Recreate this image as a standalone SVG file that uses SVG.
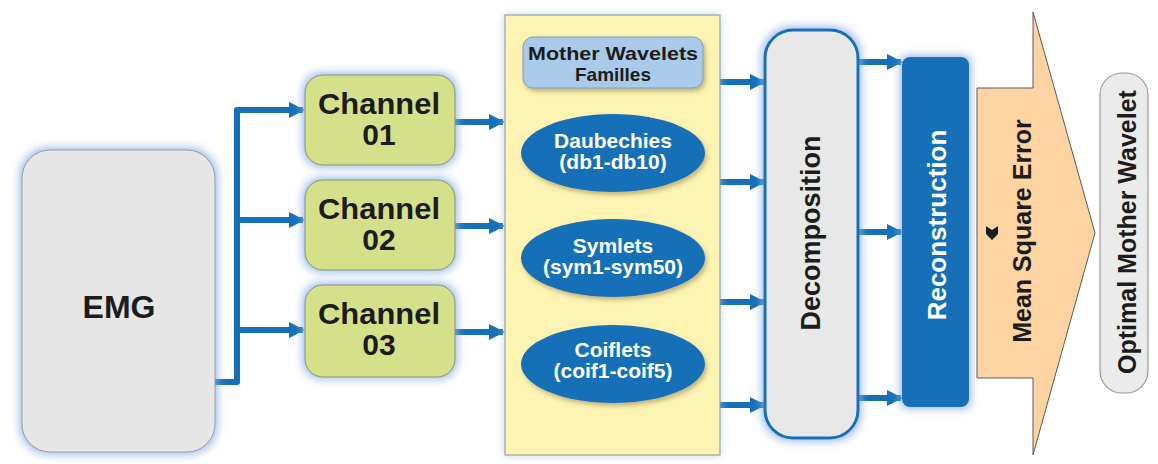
<svg xmlns="http://www.w3.org/2000/svg" width="1158" height="464" viewBox="0 0 1158 464">
<defs>
<style>
text{font-family:"Liberation Sans",Arial,sans-serif;font-weight:bold;text-anchor:middle}
.dark{fill:#1c1c1c}
.white{fill:#ffffff}
.conn{fill:none;stroke:#1670b8;stroke-width:6;stroke-linejoin:round}
.chan{fill:#d5e08b;stroke:#8a8f70;stroke-width:1}
.ell{fill:#1670b8}
</style>
<filter id="glow" x="-30%" y="-30%" width="160%" height="160%">
<feMorphology in="SourceAlpha" operator="dilate" radius="2" result="d"/>
<feGaussianBlur in="d" stdDeviation="4" result="b"/>
<feFlood flood-color="#8db0e6" flood-opacity="0.85"/>
<feComposite in2="b" operator="in" result="g"/>
<feMerge><feMergeNode in="g"/><feMergeNode in="SourceGraphic"/></feMerge>
</filter>
<filter id="softglow" x="-30%" y="-10%" width="160%" height="120%">
<feGaussianBlur in="SourceAlpha" stdDeviation="4" result="b"/>
<feFlood flood-color="#a9c3ea" flood-opacity="0.7"/>
<feComposite in2="b" operator="in" result="g"/>
<feMerge><feMergeNode in="g"/><feMergeNode in="SourceGraphic"/></feMerge>
</filter>
<filter id="shadow" x="-20%" y="-30%" width="140%" height="160%">
<feDropShadow dx="2" dy="3" stdDeviation="2" flood-color="#7a6a30" flood-opacity="0.45"/>
</filter>
<marker id="ah" viewBox="0 0 16 16" refX="14" refY="8" markerWidth="16" markerHeight="16" markerUnits="userSpaceOnUse" orient="auto">
<path d="M0,0 L16,8 L0,16 Z" fill="#1670b8"/>
</marker>
</defs>
<rect width="1158" height="464" fill="#ffffff"/>

<g id="connectors">
<path class="conn" d="M215,382 H237 V110 H303" marker-end="url(#ah)"/>
<path class="conn" d="M237,220 H303" marker-end="url(#ah)"/>
<path class="conn" d="M237,330 H303" marker-end="url(#ah)"/>
<path class="conn" d="M455,122 H503" marker-end="url(#ah)"/>
<path class="conn" d="M455,226 H503" marker-end="url(#ah)"/>
<path class="conn" d="M455,332 H503" marker-end="url(#ah)"/>
<path class="conn" d="M720,82 H764" marker-end="url(#ah)"/>
<path class="conn" d="M720,182 H764" marker-end="url(#ah)"/>
<path class="conn" d="M720,302 H764" marker-end="url(#ah)"/>
<path class="conn" d="M720,405 H764" marker-end="url(#ah)"/>
<path class="conn" d="M858,62 H901" marker-end="url(#ah)"/>
<path class="conn" d="M858,232 H901" marker-end="url(#ah)"/>
<path class="conn" d="M858,398 H901" marker-end="url(#ah)"/>
</g>

<g id="emg">
<rect x="22" y="150" width="193" height="302" rx="28" fill="#e6e6e6" stroke="#9a9a9a" stroke-width="1" filter="url(#glow)"/>
<text class="dark" x="119" y="318" font-size="32">EMG</text>
</g>

<g id="channel01">
<rect class="chan" x="305" y="75" width="150" height="90" rx="18" filter="url(#glow)"/>
<text class="dark" x="379" y="114" font-size="30" textLength="122" lengthAdjust="spacingAndGlyphs">Channel</text>
<text class="dark" x="379" y="145" font-size="30">01</text>
</g>
<g id="channel02">
<rect class="chan" x="305" y="180" width="150" height="90" rx="18" filter="url(#glow)"/>
<text class="dark" x="379" y="219" font-size="30" textLength="122" lengthAdjust="spacingAndGlyphs">Channel</text>
<text class="dark" x="379" y="250" font-size="30">02</text>
</g>
<g id="channel03">
<rect class="chan" x="305" y="285" width="150" height="92" rx="18" filter="url(#glow)"/>
<text class="dark" x="379" y="324" font-size="30" textLength="122" lengthAdjust="spacingAndGlyphs">Channel</text>
<text class="dark" x="379" y="355" font-size="30">03</text>
</g>

<g id="wavelet-panel">
<rect x="505" y="15" width="215" height="440" fill="#fdf3b2" stroke="#8f8f8f" stroke-width="1" filter="url(#softglow)"/>
</g>
<g id="families">
<rect x="523" y="37" width="180" height="51" rx="10" fill="#a9cbe9" stroke="#7f9fbf" stroke-width="1" filter="url(#shadow)"/>
<text class="dark" x="613" y="60" font-size="19" textLength="170" lengthAdjust="spacingAndGlyphs">Mother Wavelets</text>
<text class="dark" x="613" y="81" font-size="19">Familles</text>
</g>
<g id="daubechies">
<ellipse class="ell" cx="613" cy="153" rx="92" ry="39" filter="url(#shadow)"/>
<text class="white" x="613" y="148" font-size="21">Daubechies</text>
<text class="white" x="613" y="169" font-size="21">(db1-db10)</text>
</g>
<g id="symlets">
<ellipse class="ell" cx="613" cy="258" rx="92" ry="39" filter="url(#shadow)"/>
<text class="white" x="613" y="253" font-size="21">Symlets</text>
<text class="white" x="613" y="274" font-size="21">(sym1-sym50)</text>
</g>
<g id="coiflets">
<ellipse class="ell" cx="613" cy="364" rx="92" ry="39" filter="url(#shadow)"/>
<text class="white" x="613" y="357" font-size="21">Coiflets</text>
<text class="white" x="613" y="378" font-size="21">(coif1-coif5)</text>
</g>

<g id="decomposition">
<rect x="765" y="30" width="93" height="408" rx="28" fill="#e8e8e8" stroke="#1670b8" stroke-width="3" filter="url(#glow)"/>
<text class="dark" transform="translate(820,233) rotate(-90)" x="0" y="0" font-size="27">Decomposition</text>
</g>

<g id="reconstruction">
<rect x="902" y="57" width="67" height="350" rx="8" fill="#1670b8" filter="url(#glow)"/>
<text class="white" transform="translate(946,225) rotate(-90)" x="0" y="0" font-size="26">Reconstruction</text>
</g>

<g id="mse">
<polygon points="977,88 1033,88 1033,12 1095,233 1033,455 1033,378 977,378" fill="#fdd3a2" stroke="#5a5a5a" stroke-width="1"/>
<path d="M986,226 L992,230 L998,226 L998,234 L992,240 L986,234 Z" fill="#1c1c1c"/>
<text class="dark" transform="translate(1031,231) rotate(-90)" x="0" y="0" font-size="25">Mean Square Error</text>
</g>

<g id="optimal">
<rect x="1100" y="73" width="48" height="320" rx="22" fill="#ebebeb" stroke="#9a9a9a" stroke-width="1.2"/>
<text class="dark" transform="translate(1136,232) rotate(-90)" x="0" y="0" font-size="25">Optimal Mother Wavelet</text>
</g>
</svg>
